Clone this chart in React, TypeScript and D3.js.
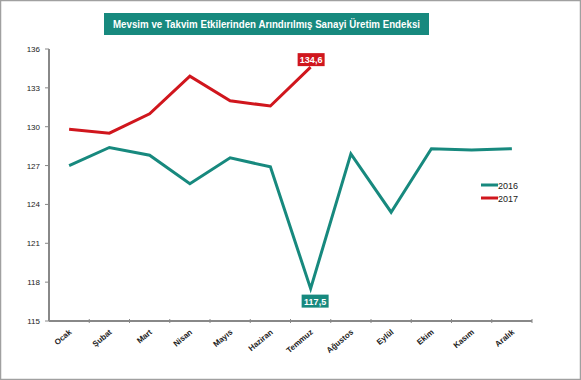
import React from "react";
import * as d3 from "d3";

const months = ["Ocak", "Şubat", "Mart", "Nisan", "Mayıs", "Haziran", "Temmuz", "Ağustos", "Eylül", "Ekim", "Kasım", "Aralık"];
const values2016 = [127.0, 128.4, 127.8, 125.6, 127.6, 126.9, 117.5, 127.9, 123.4, 128.3, 128.2, 128.3];
const values2017 = [129.8, 129.5, 131.0, 133.9, 132.0, 131.6, 134.6];
const yTicks = [115, 118, 121, 124, 127, 130, 133, 136];
const title = "Mevsim ve Takvim Etkilerinden Arındırılmış Sanayi Üretim Endeksi";
const seriesNames = ["2016", "2017"];

const W = 581, H = 380;
const TEAL = "#17897e";
const RED = "#d0161d";

export default function App() {
  const x = d3.scaleBand<string>().domain(months).range([49, 532]);
  const y = d3.scaleLinear().domain([115, 136]).range([321, 49]);
  const line = d3.line<number>().x((_, i) => (x(months[i]) as number) + x.bandwidth() / 2).y((d) => y(d));
  const cx = (i: number) => (x(months[i]) as number) + x.bandwidth() / 2;
  const font = "Arial, 'Liberation Sans', sans-serif";
  const i16 = 6, i17 = 6;
  return (
    <svg width={W} height={H} style={{ position: "absolute", left: 0, top: 0 }} fontFamily={font}>
      <rect x={0.5} y={0.5} width={W - 1} height={H - 1} fill="#fff" stroke="#a0a0a0" strokeWidth={1.5} />
      <rect x={104} y={13} width={325} height={22} fill={TEAL} />
      <text x={113} y={28} textLength={307} lengthAdjust="spacingAndGlyphs" fill="#fff" fontSize={10.5} fontWeight="bold">{title}</text>
      {/* y axis */}
      <line x1={49} x2={49} y1={49} y2={321} stroke="#888" strokeWidth={2} />
      {yTicks.map((t) => (
        <g key={t}>
          <line x1={45} x2={49} y1={y(t)} y2={y(t)} stroke="#888" strokeWidth={1} />
          <text x={40} y={y(t) + 3} textAnchor="end" fontSize={8} fill="#222">{t}</text>
        </g>
      ))}
      {/* x axis */}
      <line x1={49} x2={532} y1={321} y2={321} stroke="#888" strokeWidth={2} />
      {months.map((m, i) => (
        <g key={m}>
          <line x1={(x(m) as number) + x.bandwidth()} x2={(x(m) as number) + x.bandwidth()} y1={319} y2={323} stroke="#888" strokeWidth={1} />
          <text transform={`translate(${cx(i) + 3},${333}) rotate(-40)`} textAnchor="end" fontSize={8} fontWeight="bold" fill="#222">{m}</text>
        </g>
      ))}
      <path d={line(values2016) || ""} fill="none" stroke={TEAL} strokeWidth={3} strokeLinejoin="miter" />
      <path d={line(values2017) || ""} fill="none" stroke={RED} strokeWidth={3} strokeLinejoin="miter" />
      {/* labels */}
      <rect x={cx(i17) - 13} y={y(values2017[i17]) - 14} width={27} height={13} fill={RED} />
      <text x={cx(i17) + 0.5} y={y(values2017[i17]) - 4} textAnchor="middle" fontSize={9} fontWeight="bold" fill="#fff">134,6</text>
      <rect x={cx(i16) - 9} y={y(values2016[i16]) + 6} width={27} height={13} fill={TEAL} />
      <text x={cx(i16) + 4.5} y={y(values2016[i16]) + 16} textAnchor="middle" fontSize={9} fontWeight="bold" fill="#fff">117,5</text>
      {/* legend */}
      <line x1={481} x2={498} y1={185} y2={185} stroke={TEAL} strokeWidth={3} />
      <text x={498} y={188.5} fontSize={9} fill="#222">{seriesNames[0]}</text>
      <line x1={481} x2={498} y1={198} y2={198} stroke={RED} strokeWidth={3} />
      <text x={498} y={201.5} fontSize={9} fill="#222">{seriesNames[1]}</text>
    </svg>
  );
}
